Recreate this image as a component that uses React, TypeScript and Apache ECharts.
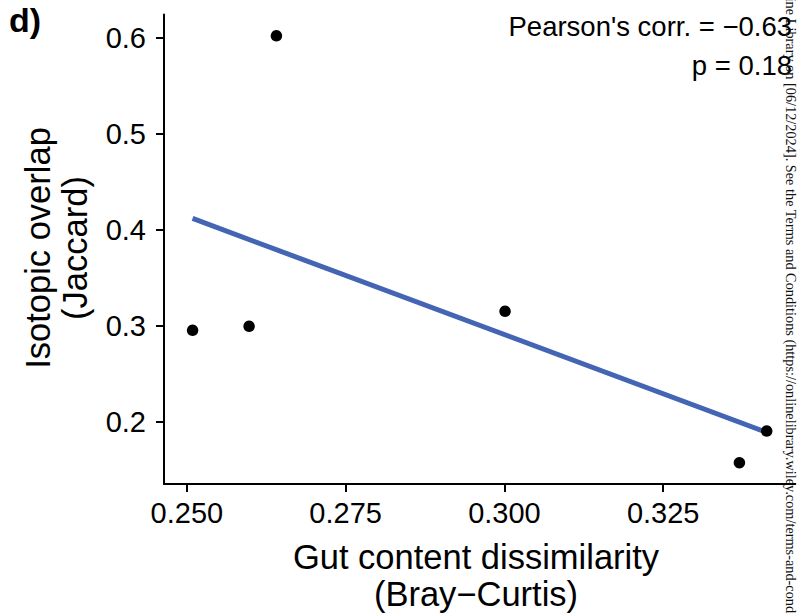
import React, { useEffect, useRef } from "react";
import * as echarts from "echarts";

// Gut content dissimilarity (Bray–Curtis) vs isotopic overlap (Jaccard)
const gutDissimilarity = [0.2509, 0.2598, 0.2641, 0.3001, 0.337, 0.3413];
const isotopicOverlap = [0.2955, 0.2997, 0.602, 0.3153, 0.1577, 0.1906];

// Linear fit end points
const fitX = [0.2509, 0.3413];
const fitY = [0.4119, 0.1893];

const xTicks = [0.25, 0.275, 0.3, 0.325];
const yTicks = [0.2, 0.3, 0.4, 0.5, 0.6];

const panelLabel = "d)";
const statLines = ["Pearson's corr. = \u22120.63", "p = 0.18"];
const xTitle = ["Gut content dissimilarity", "(Bray\u2212Curtis)"];
const yTitle = ["Isotopic overlap", "(Jaccard)"];
const stampHead = "Wiley Online Library on ";
const stampTail =
  "[06/12/2024]. See the Terms and Conditions (https://onlinelibrary.wiley.com/terms-and-conditions) on Wiley Online Library for rules of use";

const SANS = "'Liberation Sans', Arial, Helvetica, sans-serif";
const SERIF = "'Liberation Serif', 'Times New Roman', serif";

export default function App() {
  const ref = useRef<HTMLDivElement>(null);

  useEffect(() => {
    if (!ref.current) return;
    const chart = echarts.init(ref.current, null, { renderer: "svg" });

    const axisCommon = {
      type: "value" as const,
      splitLine: { show: false },
      axisLine: { show: true, onZero: false, lineStyle: { color: "#000", width: 2 } },
    };

    const titleText = (text: string, x: number, y: number, rotation = 0) => ({
      type: "text",
      x,
      y,
      rotation,
      style: {
        text,
        font: `34.5px ${SANS}`,
        fill: "#000",
        align: "center",
        verticalAlign: "middle",
      },
    });

    chart.setOption({
      animation: false,
      backgroundColor: "#fff",
      grid: {
        left: 164,
        top: 14.5,
        right: 3.7,
        bottom: 129,
        containLabel: false,
        outerBoundsMode: "none",
      },
      xAxis: {
        ...axisCommon,
        min: 0.2464,
        max: 0.3458,
        axisTick: {
          show: true,
          length: 8,
          customValues: xTicks,
          lineStyle: { color: "#000", width: 2 },
        },
        axisLabel: {
          customValues: xTicks,
          formatter: (v: number) => v.toFixed(3),
          fontSize: 29,
          fontFamily: SANS,
          color: "#000",
          margin: 14,
        },
      },
      yAxis: {
        ...axisCommon,
        min: 0.1355,
        max: 0.6242,
        axisTick: {
          show: true,
          length: 8,
          customValues: yTicks,
          lineStyle: { color: "#000", width: 2 },
        },
        axisLabel: {
          customValues: yTicks,
          formatter: (v: number) => v.toFixed(1),
          fontSize: 29,
          fontFamily: SANS,
          color: "#000",
          margin: 18,
        },
      },
      series: [
        {
          type: "line",
          data: fitX.map((x, i) => [x, fitY[i]]),
          symbol: "none",
          lineStyle: { color: "#4464b4", width: 5, cap: "butt" },
          z: 2,
        },
        {
          type: "scatter",
          data: gutDissimilarity.map((x, i) => [x, isotopicOverlap[i]]),
          symbol: "circle",
          symbolSize: 11.5,
          itemStyle: { color: "#000", opacity: 1 },
          z: 3,
        },
      ],
      graphic: [
        {
          type: "text",
          left: 9,
          top: 3,
          style: { text: panelLabel, font: `bold 34px ${SANS}`, fill: "#000" },
        },
        {
          type: "text",
          x: 792,
          y: 26,
          style: {
            text: statLines[0],
            font: `27.5px ${SANS}`,
            fill: "#000",
            align: "right",
            verticalAlign: "middle",
          },
        },
        {
          type: "text",
          x: 792,
          y: 65,
          style: {
            text: statLines[1],
            font: `27.5px ${SANS}`,
            fill: "#000",
            align: "right",
            verticalAlign: "middle",
          },
        },
        titleText(xTitle[0], 476, 557),
        titleText(xTitle[1], 476, 594),
        titleText(yTitle[0], 38, 248, Math.PI / 2),
        titleText(yTitle[1], 75, 248, Math.PI / 2),
        // download stamp running down the right edge
        {
          type: "text",
          x: 791,
          y: 83,
          rotation: -Math.PI / 2,
          z: 100,
          style: {
            text: stampHead,
            font: `14.3px ${SERIF}`,
            fill: "#111",
            align: "right",
            verticalAlign: "middle",
          },
        },
        {
          type: "text",
          x: 791,
          y: 83,
          rotation: -Math.PI / 2,
          z: 100,
          style: {
            text: stampTail,
            font: `14.3px ${SERIF}`,
            fill: "#111",
            align: "left",
            verticalAlign: "middle",
          },
        },
      ],
    });

    return () => chart.dispose();
  }, []);

  return (
    <div
      ref={ref}
      style={{ position: "absolute", left: 0, top: 0, width: 799, height: 613 }}
    />
  );
}
